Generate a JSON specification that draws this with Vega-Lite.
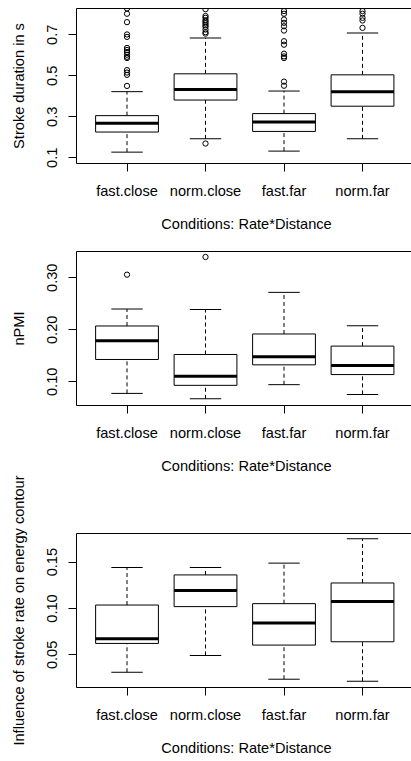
{
  "$schema": "https://vega.github.io/schema/vega-lite/v6.json",
  "background": "white",
  "padding": {"left": 10, "top": 7, "right": 0, "bottom": 0},
  "spacing": 18,
  "config": {
    "font": "Liberation Sans",
    "view": {"stroke": "#000", "strokeWidth": 1},
    "axis": {
      "labelFont": "Liberation Sans", "titleFont": "Liberation Sans",
      "labelColor": "#000", "titleColor": "#000", "tickColor": "#000",
      "domain": false, "grid": false, "tickSize": 8, "tickWidth": 1,
      "labelFontSize": 14.6, "titleFontSize": 14.6, "titleFontWeight": "normal"
    },
    "axisX": {"labelAngle": 0, "labelPadding": 12, "titlePadding": 19, "labelBaseline": "top", "titleBaseline": "top", "titleX": 170, "titleAlign": "center"},
    "axisY": {"labelAngle": -90, "labelAlign": "center", "labelBaseline": "alphabetic", "labelPadding": 12, "titlePadding": 21, "titleAngle": -90, "titleBaseline": "alphabetic"}
  },
  "datasets": {
    "p1_box": [
      {"cond": "fast.close", "lo": 0.125, "q1": 0.223, "med": 0.266, "q3": 0.303, "hi": 0.42},
      {"cond": "norm.close", "lo": 0.19, "q1": 0.379, "med": 0.431, "q3": 0.507, "hi": 0.682},
      {"cond": "fast.far", "lo": 0.13, "q1": 0.226, "med": 0.272, "q3": 0.313, "hi": 0.423},
      {"cond": "norm.far", "lo": 0.19, "q1": 0.349, "med": 0.42, "q3": 0.502, "hi": 0.706}
    ],
    "p1_out": [
      {"cond": "fast.close", "v": 0.826}, {"cond": "fast.close", "v": 0.8}, {"cond": "fast.close", "v": 0.759},
      {"cond": "fast.close", "v": 0.699}, {"cond": "fast.close", "v": 0.687}, {"cond": "fast.close", "v": 0.633},
      {"cond": "fast.close", "v": 0.623}, {"cond": "fast.close", "v": 0.613}, {"cond": "fast.close", "v": 0.6},
      {"cond": "fast.close", "v": 0.59}, {"cond": "fast.close", "v": 0.584}, {"cond": "fast.close", "v": 0.525},
      {"cond": "fast.close", "v": 0.513}, {"cond": "fast.close", "v": 0.502}, {"cond": "fast.close", "v": 0.448},
      {"cond": "norm.close", "v": 0.822}, {"cond": "norm.close", "v": 0.789}, {"cond": "norm.close", "v": 0.78},
      {"cond": "norm.close", "v": 0.769}, {"cond": "norm.close", "v": 0.761}, {"cond": "norm.close", "v": 0.753},
      {"cond": "norm.close", "v": 0.744}, {"cond": "norm.close", "v": 0.736}, {"cond": "norm.close", "v": 0.723},
      {"cond": "norm.close", "v": 0.71}, {"cond": "norm.close", "v": 0.703}, {"cond": "norm.close", "v": 0.167},
      {"cond": "fast.far", "v": 0.813}, {"cond": "fast.far", "v": 0.8}, {"cond": "fast.far", "v": 0.772},
      {"cond": "fast.far", "v": 0.756}, {"cond": "fast.far", "v": 0.739}, {"cond": "fast.far", "v": 0.718},
      {"cond": "fast.far", "v": 0.666}, {"cond": "fast.far", "v": 0.649}, {"cond": "fast.far", "v": 0.605},
      {"cond": "fast.far", "v": 0.592}, {"cond": "fast.far", "v": 0.584}, {"cond": "fast.far", "v": 0.469},
      {"cond": "fast.far", "v": 0.449},
      {"cond": "norm.far", "v": 0.813}, {"cond": "norm.far", "v": 0.8}, {"cond": "norm.far", "v": 0.78},
      {"cond": "norm.far", "v": 0.767}, {"cond": "norm.far", "v": 0.731}
    ],
    "p2_box": [
      {"cond": "fast.close", "lo": 0.0768, "q1": 0.142, "med": 0.178, "q3": 0.2064, "hi": 0.239},
      {"cond": "norm.close", "lo": 0.0665, "q1": 0.0923, "med": 0.1097, "q3": 0.1516, "hi": 0.238},
      {"cond": "fast.far", "lo": 0.0936, "q1": 0.1317, "med": 0.1472, "q3": 0.191, "hi": 0.271},
      {"cond": "norm.far", "lo": 0.0749, "q1": 0.113, "med": 0.1304, "q3": 0.1677, "hi": 0.207}
    ],
    "p2_out": [
      {"cond": "fast.close", "v": 0.305},
      {"cond": "norm.close", "v": 0.339}
    ],
    "p3_box": [
      {"cond": "fast.close", "lo": 0.0307, "q1": 0.0618, "med": 0.0669, "q3": 0.1032, "hi": 0.1437},
      {"cond": "norm.close", "lo": 0.0488, "q1": 0.1015, "med": 0.1188, "q3": 0.1357, "hi": 0.1437},
      {"cond": "fast.far", "lo": 0.0232, "q1": 0.06, "med": 0.0838, "q3": 0.1047, "hi": 0.1484},
      {"cond": "norm.far", "lo": 0.021, "q1": 0.0636, "med": 0.1069, "q3": 0.127, "hi": 0.1747}
    ]
  },
  "vconcat": [
    {
      "width": 335, "height": 155,
      "layer": [
        {"data": {"name": "p1_box"}, "mark": {"type": "rule", "strokeDash": [4, 3], "color": "#000", "strokeWidth": 1},
         "encoding": {
           "x": {"field": "cond", "type": "nominal", "sort": ["fast.close", "norm.close", "fast.far", "norm.far"],
                 "scale": {"type": "band", "paddingInner": 0, "paddingOuter": 0.1338, "align": 0.56},
                 "title": "Conditions: Rate*Distance"},
           "y": {"field": "q3", "type": "quantitative", "scale": {"domain": [0.072, 0.828], "nice": false, "zero": false},
                 "axis": {"values": [0.1, 0.2, 0.3, 0.4, 0.5, 0.6, 0.7, 0.8], "format": ".1f",
                          "labelExpr": "indexof(['0.1','0.3','0.5','0.7'], datum.label) >= 0 ? datum.label : ''"},
                 "title": "Stroke duration in s"},
           "y2": {"field": "hi"}}},
        {"data": {"name": "p1_box"}, "mark": {"type": "rule", "strokeDash": [4, 3], "color": "#000", "strokeWidth": 1},
         "encoding": {"x": {"field": "cond", "type": "nominal", "sort": ["fast.close", "norm.close", "fast.far", "norm.far"], "title": "Conditions: Rate*Distance"},
                      "y": {"field": "lo", "type": "quantitative", "title": "Stroke duration in s"}, "y2": {"field": "q1"}}},
        {"data": {"name": "p1_box"}, "mark": {"type": "tick", "size": 31.4, "thickness": 1, "color": "#000", "opacity": 1},
         "encoding": {"x": {"field": "cond", "type": "nominal", "sort": ["fast.close", "norm.close", "fast.far", "norm.far"], "title": "Conditions: Rate*Distance"},
                      "y": {"field": "hi", "type": "quantitative", "title": "Stroke duration in s"}}},
        {"data": {"name": "p1_box"}, "mark": {"type": "tick", "size": 31.4, "thickness": 1, "color": "#000", "opacity": 1},
         "encoding": {"x": {"field": "cond", "type": "nominal", "sort": ["fast.close", "norm.close", "fast.far", "norm.far"], "title": "Conditions: Rate*Distance"},
                      "y": {"field": "lo", "type": "quantitative", "title": "Stroke duration in s"}}},
        {"data": {"name": "p1_box"}, "mark": {"type": "bar", "fill": "#fff", "stroke": "#000", "strokeWidth": 1, "width": {"band": 0.8}},
         "encoding": {"x": {"field": "cond", "type": "nominal", "sort": ["fast.close", "norm.close", "fast.far", "norm.far"], "title": "Conditions: Rate*Distance"},
                      "y": {"field": "q1", "type": "quantitative", "title": "Stroke duration in s"}, "y2": {"field": "q3"}}},
        {"data": {"name": "p1_box"}, "mark": {"type": "tick", "size": 62.8, "thickness": 3, "color": "#000", "opacity": 1},
         "encoding": {"x": {"field": "cond", "type": "nominal", "sort": ["fast.close", "norm.close", "fast.far", "norm.far"], "title": "Conditions: Rate*Distance"},
                      "y": {"field": "med", "type": "quantitative", "title": "Stroke duration in s"}}},
        {"data": {"name": "p1_out"}, "mark": {"type": "point", "shape": "circle", "filled": false, "size": 28, "strokeWidth": 1, "color": "#000", "opacity": 1, "clip": true},
         "encoding": {"x": {"field": "cond", "type": "nominal", "sort": ["fast.close", "norm.close", "fast.far", "norm.far"], "title": "Conditions: Rate*Distance"},
                      "y": {"field": "v", "type": "quantitative", "title": "Stroke duration in s"}}}
      ]
    },
    {
      "spacing": 0,
      "vconcat": [
        {
          "width": 335, "height": 154,
          "layer": [
            {"data": {"name": "p2_box"}, "mark": {"type": "rule", "strokeDash": [4, 3], "color": "#000", "strokeWidth": 1},
             "encoding": {
               "x": {"field": "cond", "type": "nominal", "sort": ["fast.close", "norm.close", "fast.far", "norm.far"],
                     "scale": {"type": "band", "paddingInner": 0, "paddingOuter": 0.1338, "align": 0.56},
                     "title": "Conditions: Rate*Distance"},
               "y": {"field": "q3", "type": "quantitative", "scale": {"domain": [0.0545, 0.3505], "nice": false, "zero": false},
                     "axis": {"values": [0.1, 0.15, 0.2, 0.25, 0.3, 0.35], "format": ".2f",
                              "labelExpr": "indexof(['0.10','0.20','0.30'], datum.label) >= 0 ? datum.label : ''"},
                     "title": "nPMI"},
               "y2": {"field": "hi"}}},
            {"data": {"name": "p2_box"}, "mark": {"type": "rule", "strokeDash": [4, 3], "color": "#000", "strokeWidth": 1},
             "encoding": {"x": {"field": "cond", "type": "nominal", "sort": ["fast.close", "norm.close", "fast.far", "norm.far"], "title": "Conditions: Rate*Distance"},
                          "y": {"field": "lo", "type": "quantitative", "title": "nPMI"}, "y2": {"field": "q1"}}},
            {"data": {"name": "p2_box"}, "mark": {"type": "tick", "size": 31.4, "thickness": 1, "color": "#000", "opacity": 1},
             "encoding": {"x": {"field": "cond", "type": "nominal", "sort": ["fast.close", "norm.close", "fast.far", "norm.far"], "title": "Conditions: Rate*Distance"},
                          "y": {"field": "hi", "type": "quantitative", "title": "nPMI"}}},
            {"data": {"name": "p2_box"}, "mark": {"type": "tick", "size": 31.4, "thickness": 1, "color": "#000", "opacity": 1},
             "encoding": {"x": {"field": "cond", "type": "nominal", "sort": ["fast.close", "norm.close", "fast.far", "norm.far"], "title": "Conditions: Rate*Distance"},
                          "y": {"field": "lo", "type": "quantitative", "title": "nPMI"}}},
            {"data": {"name": "p2_box"}, "mark": {"type": "bar", "fill": "#fff", "stroke": "#000", "strokeWidth": 1, "width": {"band": 0.8}},
             "encoding": {"x": {"field": "cond", "type": "nominal", "sort": ["fast.close", "norm.close", "fast.far", "norm.far"], "title": "Conditions: Rate*Distance"},
                          "y": {"field": "q1", "type": "quantitative", "title": "nPMI"}, "y2": {"field": "q3"}}},
            {"data": {"name": "p2_box"}, "mark": {"type": "tick", "size": 62.8, "thickness": 3, "color": "#000", "opacity": 1},
             "encoding": {"x": {"field": "cond", "type": "nominal", "sort": ["fast.close", "norm.close", "fast.far", "norm.far"], "title": "Conditions: Rate*Distance"},
                          "y": {"field": "med", "type": "quantitative", "title": "nPMI"}}},
            {"data": {"name": "p2_out"}, "mark": {"type": "point", "shape": "circle", "filled": false, "size": 28, "strokeWidth": 1, "color": "#000", "opacity": 1, "clip": true},
             "encoding": {"x": {"field": "cond", "type": "nominal", "sort": ["fast.close", "norm.close", "fast.far", "norm.far"], "title": "Conditions: Rate*Distance"},
                          "y": {"field": "v", "type": "quantitative", "title": "nPMI"}}}
          ]
        },
        {
          "width": 335, "height": 154,
          "layer": [
            {"data": {"name": "p3_box"}, "mark": {"type": "rule", "strokeDash": [4, 3], "color": "#000", "strokeWidth": 1},
             "encoding": {
               "x": {"field": "cond", "type": "nominal", "sort": ["fast.close", "norm.close", "fast.far", "norm.far"],
                     "scale": {"type": "band", "paddingInner": 0, "paddingOuter": 0.1338, "align": 0.56},
                     "title": "Conditions: Rate*Distance"},
               "y": {"field": "q3", "type": "quantitative", "scale": {"domain": [0.0148, 0.1809], "nice": false, "zero": false},
                     "axis": {"values": [0.05, 0.1, 0.15], "format": ".2f"},
                     "title": "Influence of stroke rate on energy contour"},
               "y2": {"field": "hi"}}},
            {"data": {"name": "p3_box"}, "mark": {"type": "rule", "strokeDash": [4, 3], "color": "#000", "strokeWidth": 1},
             "encoding": {"x": {"field": "cond", "type": "nominal", "sort": ["fast.close", "norm.close", "fast.far", "norm.far"], "title": "Conditions: Rate*Distance"},
                          "y": {"field": "lo", "type": "quantitative", "title": "Influence of stroke rate on energy contour"}, "y2": {"field": "q1"}}},
            {"data": {"name": "p3_box"}, "mark": {"type": "tick", "size": 31.4, "thickness": 1, "color": "#000", "opacity": 1},
             "encoding": {"x": {"field": "cond", "type": "nominal", "sort": ["fast.close", "norm.close", "fast.far", "norm.far"], "title": "Conditions: Rate*Distance"},
                          "y": {"field": "hi", "type": "quantitative", "title": "Influence of stroke rate on energy contour"}}},
            {"data": {"name": "p3_box"}, "mark": {"type": "tick", "size": 31.4, "thickness": 1, "color": "#000", "opacity": 1},
             "encoding": {"x": {"field": "cond", "type": "nominal", "sort": ["fast.close", "norm.close", "fast.far", "norm.far"], "title": "Conditions: Rate*Distance"},
                          "y": {"field": "lo", "type": "quantitative", "title": "Influence of stroke rate on energy contour"}}},
            {"data": {"name": "p3_box"}, "mark": {"type": "bar", "fill": "#fff", "stroke": "#000", "strokeWidth": 1, "width": {"band": 0.8}},
             "encoding": {"x": {"field": "cond", "type": "nominal", "sort": ["fast.close", "norm.close", "fast.far", "norm.far"], "title": "Conditions: Rate*Distance"},
                          "y": {"field": "q1", "type": "quantitative", "title": "Influence of stroke rate on energy contour"}, "y2": {"field": "q3"}}},
            {"data": {"name": "p3_box"}, "mark": {"type": "tick", "size": 62.8, "thickness": 3, "color": "#000", "opacity": 1},
             "encoding": {"x": {"field": "cond", "type": "nominal", "sort": ["fast.close", "norm.close", "fast.far", "norm.far"], "title": "Conditions: Rate*Distance"},
                          "y": {"field": "med", "type": "quantitative", "title": "Influence of stroke rate on energy contour"}}}
          ]
        }
      ]
    }
  ]
}
